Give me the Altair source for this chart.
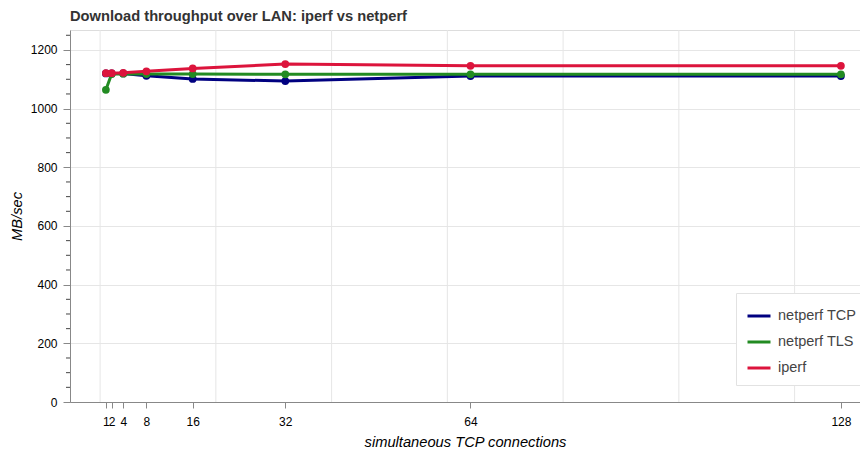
import altair as alt
import pandas as pd

# ---- data ----
connections = [1, 2, 4, 8, 16, 32, 64, 128]
netperf_tcp = [1120, 1120, 1120, 1112, 1101, 1094, 1111, 1111]
netperf_tls = [1064, 1118, 1119, 1118, 1118, 1117, 1117, 1117]
iperf = [1121, 1121, 1122, 1127, 1137, 1152, 1146, 1146]

series_names = ["netperf TCP", "netperf TLS", "iperf"]
series_colors = ["#000080", "#228B22", "#DC143C"]

x_tick_values = connections
x_grid_values = [0, 20, 40, 60, 80, 100, 120]
y_major_values = [0, 200, 400, 600, 800, 1000, 1200]
y_minor_values = [v for v in range(50, 1300, 50) if v % 200 != 0]

rows = []
for name, vals in zip(series_names, [netperf_tcp, netperf_tls, iperf]):
    for c, v in zip(connections, vals):
        rows.append({"connections": c, "throughput": v, "series": name})
df = pd.DataFrame(rows)

FONT = "Liberation Sans"
TXT = "#444444"

x_scale = alt.Scale(domain=[-5.2, 131.3], nice=False, zero=False)
y_scale = alt.Scale(domain=[0, 1268], nice=False, zero=True)
color_scale = alt.Scale(domain=series_names, range=series_colors)

x_axis = alt.Axis(
    values=x_tick_values, grid=False, labelOverlap=False, tickSize=6,
    format="d",
    title="simultaneous TCP connections", titleFontStyle="italic",
    titleFontWeight="normal", titleFontSize=14.7, titlePadding=7,
    labelFontSize=12, labelPadding=8,
)
y_axis = alt.Axis(
    values=y_major_values, grid=True, gridColor="#e6e6e6", tickSize=7,
    format="d",
    title="MB/sec", titleFontStyle="italic", titleFontWeight="normal",
    titleFontSize=14.7, titlePadding=6, labelFontSize=12, labelPadding=6,
)

legend = alt.Legend(
    title=None, orient="none", legendX=666, legendY=263,
    fillColor="white", strokeColor="#e2e2e2", padding=10,
    symbolType="stroke", symbolSize=529, symbolStrokeWidth=3,
    labelFontSize=14.5, labelColor=TXT, labelFont=FONT, rowPadding=6,
    labelOffset=6,
)

grid_layer = alt.Chart(pd.DataFrame({"g": x_grid_values})).mark_rule(
    color="#e6e6e6", strokeWidth=1
).encode(x=alt.X("g:Q", scale=x_scale, axis=x_axis))

minor_layer = alt.Chart(pd.DataFrame({"m": y_minor_values})).mark_rule(
    color=TXT, strokeWidth=1
).encode(
    y=alt.Y("m:Q", scale=y_scale, axis=y_axis),
    x=alt.value(-4), x2=alt.value(0),
)

layers = [grid_layer, minor_layer]
for name in series_names:
    base = alt.Chart(df).transform_filter(alt.datum.series == name).encode(
        x=alt.X("connections:Q", scale=x_scale, axis=x_axis),
        y=alt.Y("throughput:Q", scale=y_scale, axis=y_axis),
        color=alt.Color("series:N", scale=color_scale, legend=legend),
    )
    layers.append(base.mark_line(strokeWidth=3))
    layers.append(base.mark_circle(size=60, opacity=1))

chart = alt.layer(*layers).properties(
    width=790, height=372,
    title=alt.TitleParams(
        "Download throughput over LAN: iperf vs netperf",
        anchor="start", frame="group", fontSize=14.7, font=FONT,
        fontWeight="bold", color="#333333", offset=6,
    ),
    autosize=alt.AutoSizeParams(type="none"),
    padding={"left": 62, "top": 22, "right": 0, "bottom": 46},
).configure_view(
    fill="#f5f5f5", strokeWidth=0
).configure_axis(
    labelFont=FONT, titleFont=FONT, labelColor=TXT, titleColor=TXT,
    domainColor=TXT, tickColor=TXT,
).configure(background="white")

chart.save("out.html", embed_options={"renderer": "svg", "actions": False})
